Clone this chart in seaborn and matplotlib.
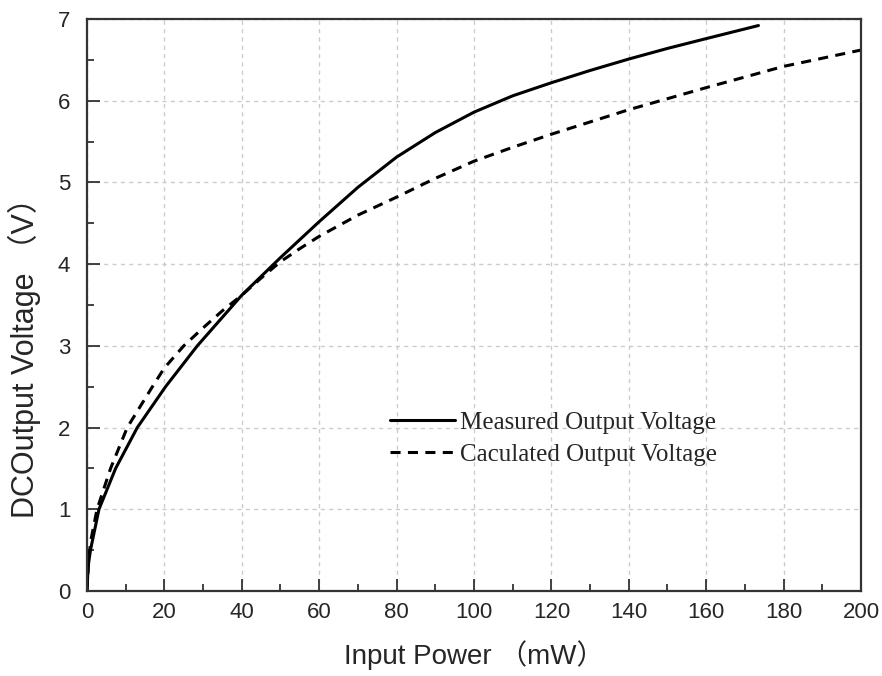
import numpy as np
import pandas as pd
import seaborn as sns
import matplotlib.pyplot as plt
from matplotlib.ticker import MultipleLocator

# values
measured_power = [0, 0.3, 0.9, 3.1, 7.4, 13, 20.3, 28.5, 40, 50, 60, 70,
                  80, 90, 100, 110, 120, 130, 140, 150, 160, 173.5]
measured_volt = [0, 0.3, 0.5, 1.0, 1.5, 2.0, 2.5, 3.0, 3.62, 4.08, 4.52, 4.94,
                 5.31, 5.61, 5.86, 6.06, 6.22, 6.37, 6.51, 6.64, 6.76, 6.92]

calc_power = [0, 0.5, 1, 2.6, 6.1, 10.4, 16.9, 20, 25, 30, 35, 40, 45, 50,
              55, 60, 70, 80, 90, 100, 110, 120, 140, 160, 180, 200]
calc_volt = [0, 0.42, 0.62, 1.0, 1.5, 2.0, 2.5, 2.73, 3.0, 3.22, 3.43, 3.62,
             3.83, 4.03, 4.19, 4.34, 4.6, 4.82, 5.05, 5.26, 5.43, 5.59, 5.89,
             6.16, 6.42, 6.62]

x_ticks = [0, 20, 40, 60, 80, 100, 120, 140, 160, 180, 200]
y_ticks = [0, 1, 2, 3, 4, 5, 6, 7]

measured = pd.DataFrame({'power': measured_power, 'volt': measured_volt})
calc = pd.DataFrame({'power': calc_power, 'volt': calc_volt})

sns.set_style('white')
plt.rcParams['font.family'] = ['Liberation Sans', 'Noto Sans CJK SC']

fig = plt.figure(figsize=(8.82, 6.76), dpi=100)
ax = fig.add_axes([0.0986, 0.1257, 0.8776, 0.8462])

sns.lineplot(data=measured, x='power', y='volt', ax=ax, color='black',
             linewidth=2.2, label='Measured Output Voltage', sort=False)
sns.lineplot(data=calc, x='power', y='volt', ax=ax, color='black',
             linewidth=2.2, label='Caculated Output Voltage', sort=False)
ax.lines[1].set_dashes([3.3, 2.4])

ax.set_xlim(0, 200)
ax.set_ylim(0, 7)
ax.set_xticks(x_ticks)
ax.set_yticks(y_ticks)
ax.xaxis.set_minor_locator(MultipleLocator(10))
ax.yaxis.set_minor_locator(MultipleLocator(0.5))

ax.grid(True, which='major', color='#cccccc', linestyle=(0, (3, 3)), linewidth=1)
ax.tick_params(which='major', direction='in', length=9, width=1.3,
               labelsize=16, color='#333333')
ax.tick_params(which='minor', direction='in', length=5, width=1.3,
               color='#333333')
ax.tick_params(axis='x', which='major', pad=8)
ax.tick_params(axis='y', which='major', pad=12)
ax.tick_params(top=False, right=False, which='both')
ax.tick_params(axis='both', which='both', bottom=True, left=True)

for side in ['left', 'bottom', 'top', 'right']:
    ax.spines[side].set_color('#333333')
    ax.spines[side].set_linewidth(1.6)

ax.set_xlabel('Input Power （mW）', fontsize=20, labelpad=12)
ax.set_ylabel('DCOutput Voltage （V）', fontsize=22)
ax.yaxis.set_label_coords(-0.06, 0.42)

leg = ax.legend(loc='upper left', bbox_to_anchor=(0.362, 0.353),
                frameon=False, handlelength=2.6, handletextpad=0.2,
                labelspacing=0.38,
                prop={'family': 'Liberation Serif', 'size': 18})
for line in leg.get_lines():
    line.set_linewidth(2.2)

fig.savefig('out.png', dpi=100)
